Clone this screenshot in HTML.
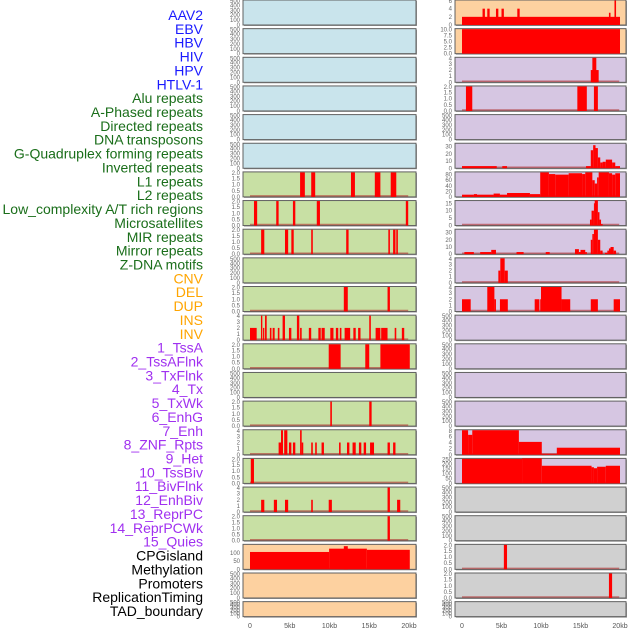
<!DOCTYPE html>
<html><head><meta charset="utf-8"><style>
body{margin:0;background:#fff;width:630px;height:630px;overflow:hidden}
svg{display:block;font-family:"Liberation Sans",sans-serif}
</style></head><body>
<svg id="chart" width="630" height="630" viewBox="0 0 630 630"></svg>
<script>
const trackLabels = ["AAV2","EBV","HBV","HIV","HPV","HTLV-1","Alu repeats","A-Phased repeats","Directed repeats","DNA transposons","G-Quadruplex forming repeats","Inverted repeats","L1 repeats","L2 repeats","Low_complexity A/T rich regions","Microsatellites","MIR repeats","Mirror repeats","Z-DNA motifs","CNV","DEL","DUP","INS","INV","1_TssA","2_TssAFlnk","3_TxFlnk","4_Tx","5_TxWk","6_EnhG","7_Enh","8_ZNF_Rpts","9_Het","10_TssBiv","11_BivFlnk","12_EnhBiv","13_ReprPC","14_ReprPCWk","15_Quies","CPGisland","Methylation","Promoters","ReplicationTiming","TAD_boundary"];
const labelGroups = [6,13,5,15,5];
const groupColors = ["#1a1aff","#1a6e1a","#ffa500","#a030f0","#000000"];
const xTicksKb = [0,5,10,15,20];
const xTickLabels = ["0","5kb","10kb","15kb","20kb"];
const T500=[0,100,200,300,400,500], T2=[0,0.5,1,1.5,2], T4=[0,1,2,3,4];
const leftBg = ["b","b","b","b","b","b","g","g","g","g","g","g","g","g","g","g","g","g","g","o","o","o"];
const rightBg = ["o","o","p","p","p","p","p","p","p","p","p","p","p","p","p","p","p","y","y","y","y","y"];
const leftTicks = [T500,T500,T500,T500,T500,T500,T2,T2,T2,T500,T2,T4,T2,T500,T2,T4,T2,T4,T2,[0,50,100],T500,T500];
const leftMax = [500,500,500,500,500,500,2,2,2,500,2,4,2,500,2,4,2,4,2,148,500,500];
const leftBars = [[],[],[],[],[],[],
 [[6.3,6.9,2],[7.7,8.2,2],[12.7,13.2,2],[15.7,16.4,2],[17.7,18.4,2]],
 [[0.5,0.9,2],[3.3,3.6,2],[5.4,5.7,2],[8.4,8.8,2],[19.6,19.9,2]],
 [[1.4,1.8,2],[4.4,4.8,2],[5.2,5.5,2],[7.7,7.9,2],[12.1,12.4,2],[17.4,17.6,2],[18.0,18.3,2],[18.4,18.6,2]],
 [],
 [[11.8,12.3,2],[17.3,17.6,2]],
 [[0,0.84,2],[1.38,1.55,4],[1.64,1.8,2],[1.89,2.1,4],[2.5,2.7,2],[2.85,3.1,2],[3.5,3.7,2],[4.1,4.4,4],[4.9,5.2,2],[5.9,6.2,4],[6.3,6.5,2],[7.4,7.7,2],[8.6,8.9,2],[9.0,9.4,2],[10.1,10.5,2],[10.8,11.1,2],[11.3,11.5,2],[11.9,12.6,2],[13.0,13.3,2],[13.6,13.9,2],[15.0,15.2,4],[15.8,16.4,2],[16.5,17.3,2],[18.2,18.4,2],[19.1,19.4,2]],
 [[9.9,11.4,2],[14.5,15.0,2],[16.4,20.1,2]],
 [],
 [[10.1,10.3,2],[15.0,15.3,2]],
 [[3.6,4.1,2],[3.9,4.15,4],[4.3,4.7,4],[4.9,5.2,2],[5.4,5.7,2],[6.3,6.5,4],[6.5,6.7,2],[7.7,7.9,2],[8.2,8.4,2],[9.0,9.3,2],[11.2,11.4,2],[12.2,12.5,2],[12.9,13.3,2],[13.7,14.0,2],[14.3,14.6,2],[15.1,15.6,2],[17.3,17.6,2],[18.0,18.3,2]],
 [[0.1,0.5,2]],
 [[1.4,1.8,2],[3.0,3.4,2],[4.4,4.8,2],[7.7,7.9,2],[9.9,10.3,2],[17.3,17.6,4],[18.5,18.9,2]],
 [[17.3,17.6,2]],
 [[0,9.95,105],[9.95,14.7,125],[11.8,12.3,140],[14.7,20.1,118]],
 [],[]];
const rightTicks = [[0,2,4,6],[0,2.5,5,7.5,10],T4,T2,T500,[0,10,20,30],[0,20,40,60,80],[0,5,10,15],[0,10,20,30],T4,T4,T500,T500,T500,T500,[0,2,4,6,8],[0,50,100,150,200,250],T500,T500,T2,T2,T500];
const rightMax = [6,10,4,2,500,34,88,16.5,34,4,4,500,500,500,500,8,250,500,500,2,2,500];
const rightBars = [
 [[0,20,2],[2.6,2.9,4],[3.2,3.5,4],[4.3,4.6,4],[5.0,5.3,4],[7.0,7.3,4],[18.6,18.8,3],[19.3,19.5,6]],
 [[0,20,10]],
 [[16.3,17.3,2],[16.5,17.0,4]],
 [[0.5,1.3,2],[14.6,15.8,2],[16.7,17.2,2]],
 [],
 [[0,4.4,3],[5.1,5.7,3],[15.7,16.3,3],[16.3,16.6,25],[16.6,16.9,32],[16.9,17.2,28],[17.2,17.5,15],[17.5,17.8,8],[17.8,18.2,9],[18.2,19.0,12],[19.0,19.4,8],[19.4,20,3]],
 [[0,1.5,8],[1.5,1.9,10],[1.9,4.0,8],[4.0,4.8,12],[4.8,5.7,8],[5.7,8.6,14],[8.6,9.9,10],[9.9,11.0,88],[11.0,11.8,82],[11.8,13.5,80],[13.5,15.2,85],[15.2,15.6,82],[15.6,16.5,88],[16.5,16.8,60],[16.8,17.1,48],[17.1,17.3,70],[17.3,18.6,88],[18.6,19.0,85],[19.0,19.4,80],[19.4,20,85]],
 [[16.2,16.4,4],[16.4,16.7,10],[16.7,16.8,15],[16.8,17.2,17],[17.2,17.4,9],[17.4,17.6,4],[17.6,17.8,1]],
 [[0.3,1.5,3],[2.3,3.7,3],[3.7,4.3,6],[6.9,7.8,3],[10.6,11.1,3],[14.3,14.8,7],[14.8,15.0,3],[15.0,15.6,6],[15.6,15.8,3],[16.3,16.5,20],[16.5,16.7,28],[16.7,17.2,34],[17.2,17.5,20],[17.5,17.8,5],[18.1,18.4,2],[18.4,18.6,5],[18.6,18.8,8],[18.8,19.2,10],[19.2,19.5,5]],
 [[4.6,4.85,2],[4.85,5.4,4],[5.4,5.8,2]],
 [[0,1.1,2],[3.2,4.1,4],[4.1,4.3,2],[4.8,5.8,2],[9.2,9.8,2],[9.9,10.0,2],[10.0,12.6,4],[12.6,13.7,2],[16.3,17.2,2],[19.2,20,2]],
 [],[],[],[],
 [[0,0.77,8],[0.77,1.3,6.5],[1.3,7.2,8],[7.2,10.1,4.2],[10.1,12.0,0.3],[12.0,20,2.3]],
 [[0,7.6,250],[7.6,10.1,255],[10.1,16.4,180],[16.4,16.7,165],[16.7,17.1,155],[17.1,18.2,170],[18.2,20,180]],
 [],[],
 [[5.3,5.7,2]],
 [[18.6,19.0,2]],
 []];
const NS="http://www.w3.org/2000/svg";
const svg=document.getElementById('chart');
const BG={b:"#c9e4ec",g:"#c8e0a4",o:"#fdd1a0",p:"#d6c6e2",y:"#d0d0d0"};
function el(tag,attrs,parent){const e=document.createElementNS(NS,tag);for(const k in attrs)e.setAttribute(k,attrs[k]);(parent||svg).appendChild(e);return e;}
function rowTop(i){return i*28.65;}
function rowH(i){return i===21?15:25;}
// labels
let li=0;
labelGroups.forEach((n,g)=>{for(let k=0;k<n;k++){
 const t=el('text',{x:203,y:20+li*13.86,'text-anchor':'end','font-size':14,fill:groupColors[g]});
 
 
 t.textContent=trackLabels[li];li++;}});
function fmt(v,ticks){const dec=ticks.some(t=>t%1!==0);if(!dec)return String(v);if(ticks.some(t=>(t*10)%5!==0))return v.toFixed(1);return v.toFixed(1);}
function drawCol(side,x0,w,zeroX,pxPerKb,bgs,ticksA,maxA,barsA){
 for(let i=0;i<22;i++){
  const top=rowTop(i),h=rowH(i),bot=top+h;
  const g=el('g',{});
  
  
  el('rect',{x:x0+1,y:top+1,width:w,height:h,fill:'#9a9a9a'},g);
  el('rect',{x:x0,y:top,width:w,height:h,fill:BG[bgs[i]],stroke:'#606060','stroke-width':1},g);
  const ymax=maxA[i];
  const yS=v=>bot-v/ymax*(h-0.5);
  const xS=kb=>zeroX+kb*pxPerKb;
  if(barsA[i].length){
   const bl=el('line',{x1:xS(0),x2:xS(19.9),y1:bot-1,y2:bot-1,stroke:'#b03030','stroke-width':1.5,opacity:0.6},g);
   
   
  }
  barsA[i].forEach(b=>{
   const r=el('rect',{x:xS(b[0]),y:yS(b[2]),width:Math.max(1,xS(b[1])-xS(b[0])),height:bot-yS(b[2]),fill:'#ff0000'},g);
   
   
  });
  const tk=ticksA[i];
  tk.forEach(v=>{
   let y=(h===15)?bot-v/ymax*h:yS(v);
   const t=el('text',{x:x0-3,y:Math.max(y+2,top+3),'text-anchor':'end','font-size':6,fill:'#666'},g);
   
   
   t.textContent=fmt(v,tk);
  });
 }
 xTicksKb.forEach((kb,j)=>{
  const t=el('text',{x:zeroX+kb*pxPerKb,y:628,'text-anchor':'middle','font-size':7,fill:'#555'});
  
  
  t.textContent=xTickLabels[j];
 });
}
drawCol('left',243,173,250,7.95,leftBg,leftTicks,leftMax,leftBars);
drawCol('right',455,171,462,7.9,rightBg,rightTicks,rightMax,rightBars);
</script>
</body></html>
